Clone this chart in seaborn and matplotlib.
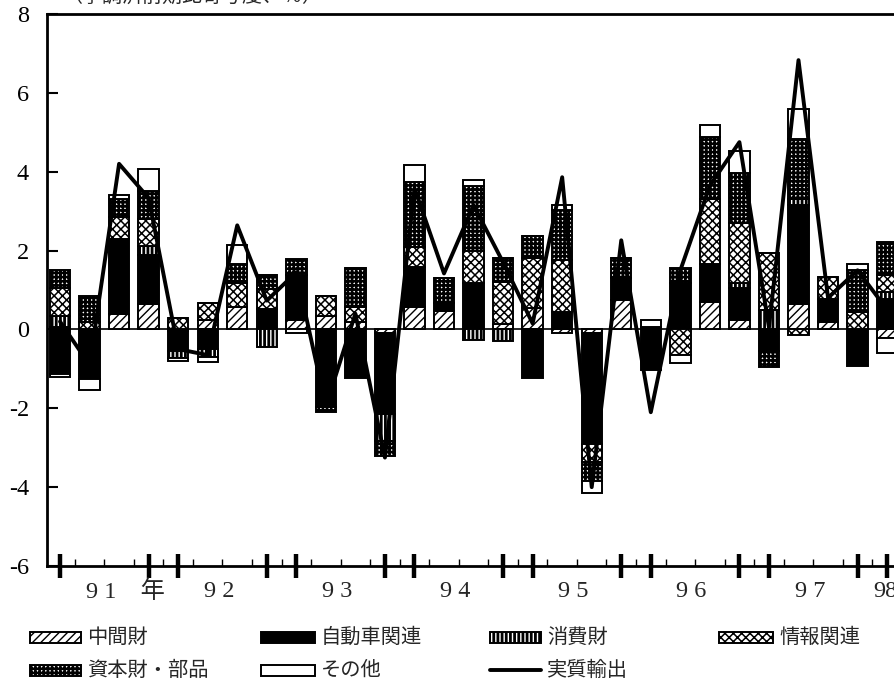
import numpy as np
import matplotlib
matplotlib.use("Agg")
import matplotlib as mpl
import matplotlib.pyplot as plt
from matplotlib.patches import Rectangle
from matplotlib.lines import Line2D
import matplotlib.transforms as mtransforms
import seaborn as sns

# ---- data: quarterly contributions (% q/q), 1991Q1 - 1998Q1 ----
quarters = [f"{y}Q{q}" for y in range(91, 98) for q in range(1, 5)] + ["98Q1"]

intermediate = [0.05, 0.0, 0.4, 0.65, -0.05, 0.25, 0.57, 0.0, 0.23, 0.35,
                0.2, -0.1, 0.57, 0.48, 0.0, 0.15, 0.55, -0.08, -0.1, 0.75,
                0.05, 0.0, 0.7, 0.25, 0.0, 0.65, 0.2, 0.0, -0.23]
autos = [-1.12, -1.25, 1.9, 1.24, -0.5, -0.5, 0.0, 0.53, 1.15, -1.98,
         -1.22, -2.05, 1.02, 0.2, 1.17, 0.0, -1.22, 0.43, -2.8, 0.55,
         -1.04, 1.17, 0.96, 0.79, -0.55, 2.5, 0.56, -0.93, 0.76]
consumer = [0.3, 0.0, 0.0, 0.23, -0.18, -0.2, 0.0, -0.45, 0.0, 0.0,
            0.0, -0.68, 0.0, 0.0, -0.28, -0.3, 0.0, 0.0, 0.0, 0.0,
            0.0, 0.0, 0.0, 0.13, 0.5, 0.17, 0.0, 0.0, 0.2]
info = [0.7, 0.2, 0.55, 0.69, 0.3, 0.41, 0.6, 0.5, 0.0, 0.5,
        0.38, 0.0, 0.5, 0.0, 0.82, 1.05, 1.25, 1.32, -0.45, 0.0,
        0.0, -0.65, 1.65, 1.52, 1.45, -0.15, 0.58, 0.45, 0.43]
capital = [0.46, 0.64, 0.45, 0.7, 0.0, 0.0, 0.5, 0.34, 0.4, -0.12,
           0.97, -0.37, 1.65, 0.63, 1.65, 0.62, 0.56, 1.27, -0.5, 0.5,
           0.0, 0.4, 1.57, 1.27, -0.4, 1.5, 0.0, 1.05, 0.84]
other = [-0.08, -0.28, 0.1, 0.56, -0.06, -0.12, 0.48, 0.0, -0.1, 0.0,
         0.0, 0.0, 0.43, 0.0, 0.16, 0.0, 0.0, 0.13, -0.3, 0.0,
         0.2, -0.2, 0.3, 0.56, 0.0, 0.77, 0.0, 0.17, -0.38]
real_exports = [0.2, -0.9, 4.2, 3.33, -0.5, -0.65, 2.64, 0.73, 1.45, -1.95,
                0.4, -3.25, 3.58, 1.42, 3.15, 1.7, 0.15, 3.86, -4.0, 2.26,
                -2.1, 1.5, 3.65, 4.75, 0.05, 6.83, 0.8, 1.5, 0.5]

series_names = ["中間財", "自動車関連", "消費財", "情報関連", "資本財・部品", "その他"]
line_name = "実質輸出"
year_labels = ["9 1\u3000年", "9 2", "9 3", "9 4", "9 5", "9 6", "9 7", "98"]
y_ticks = [-6, -4, -2, 0, 2, 4, 6, 8]

# ---- styles ----
styles = {
    "中間財": dict(color="white", hatch="////", hlw=1.0),
    "自動車関連": dict(color="black", hatch=None, hlw=1.0),
    "消費財": dict(color="white", hatch="||||", hlw=2.0),
    "情報関連": dict(color="white", hatch="xxxx", hlw=1.1),
    "資本財・部品": dict(color="white", hatch="++++", hlw=1.9),
    "その他": dict(color="white", hatch=None, hlw=1.0),
}

sns.set_style("white")
plt.rcParams["font.family"] = ["Noto Sans CJK JP", "DejaVu Sans"]
NUM_FONT = ["Liberation Serif", "Noto Sans CJK JP"]
NUM_SIZE = 17.5

W, H = 894, 683
PX_PER_Q = 29.54
X_LEFT, X_RIGHT = -0.44, 29.0

fig = plt.figure(figsize=(W / 100, H / 100), dpi=100)
ax = fig.add_axes([47 / W, 117 / H, (X_RIGHT - X_LEFT) * PX_PER_Q / W, 552 / H])

n = len(quarters)
pos = np.arange(n)
values = dict(zip(series_names, [intermediate, autos, consumer, info, capital, other]))

# stacked bars: positive parts build upward, negative parts downward
pos_base = np.zeros(n)
neg_base = np.zeros(n)
for name in series_names:
    v = np.asarray(values[name], dtype=float)
    st = styles[name]
    bottom = np.where(v >= 0, pos_base, neg_base)
    mpl.rcParams["hatch.linewidth"] = st["hlw"]
    sns.barplot(x=pos, y=v, bottom=bottom, native_scale=True, color=st["color"],
                saturation=1, edgecolor="black", linewidth=1.4, hatch=st["hatch"],
                width=0.69, errorbar=None, ax=ax, zorder=2)
    pos_base += np.where(v > 0, v, 0)
    neg_base += np.where(v < 0, v, 0)

ax.axhline(0, color="black", lw=1.2, zorder=1)

sns.lineplot(x=pos, y=real_exports, color="black", linewidth=2.8, ax=ax, zorder=4)

# ---- axes ----
ax.set_xlim(X_LEFT, X_RIGHT)
ax.set_ylim(-6, 8)
ax.set_xlabel("")
ax.set_ylabel("")
for side in ["top", "left", "bottom"]:
    ax.spines[side].set_visible(True)
    ax.spines[side].set_linewidth(2.0)
    ax.spines[side].set_color("black")
ax.spines["right"].set_visible(False)

ax.set_yticks(y_ticks)
ax.set_yticklabels([str(t) for t in y_ticks], fontsize=NUM_SIZE, family=NUM_FONT)
ax.tick_params(axis="y", direction="in", length=8, width=1.5, pad=13,
               left=True, right=False, colors="black")

year_edges = sorted(set([4 * k for k in range(8)] + [4 * k + 3 for k in range(7)]))
ax.set_xticks(year_edges)
ax.set_xticks(np.arange(0.5, n, 1.0), minor=True)
ax.set_xticklabels([])
ax.tick_params(axis="x", which="major", direction="inout", length=17, width=3.2,
               bottom=True, top=False, colors="black")
ax.tick_params(axis="x", which="minor", direction="in", length=5, width=1.0,
               bottom=True, top=False, colors="black")

blend = mtransforms.blended_transform_factory(ax.transData, ax.transAxes)
label_x = [1.5 + 4 * k - 0.63 for k in range(7)] + [27.52]
for lx, lab in zip(label_x, year_labels):
    ax.text(lx, -0.047, lab, transform=blend, ha="left", va="center",
            fontsize=NUM_SIZE, family=NUM_FONT)

# ---- legend (two rows, four fixed columns) ----
def legend_patch(x0, yc, w, h, name):
    st = styles[name]
    mpl.rcParams["hatch.linewidth"] = st["hlw"]
    r = Rectangle((x0 / W, 1 - (yc + h / 2) / H), w / W, h / H,
                  transform=fig.transFigure, facecolor=st["color"],
                  edgecolor="black", linewidth=1.4, hatch=st["hatch"])
    fig.add_artist(r)
    fig.text((x0 + w + 6) / W, 1 - yc / H, name, ha="left", va="center",
             fontsize=14.6)

col_x = [30, 261, 490, 719]
row_y = [637, 670]
legend_patch(col_x[0], row_y[0], 51, 11, "中間財")
legend_patch(col_x[1], row_y[0], 54, 11, "自動車関連")
legend_patch(col_x[2], row_y[0], 51, 11, "消費財")
legend_patch(col_x[3], row_y[0], 54, 11, "情報関連")
legend_patch(col_x[0], row_y[1], 51, 11, "資本財・部品")
legend_patch(col_x[1], row_y[1], 54, 11, "その他")
fig.add_artist(Line2D([col_x[2] / W, (col_x[2] + 51) / W],
                      [1 - row_y[1] / H, 1 - row_y[1] / H],
                      transform=fig.transFigure, color="black", lw=2.8))
fig.text((col_x[2] + 57) / W, 1 - row_y[1] / H, line_name, ha="left",
         va="center", fontsize=14.6)

# unit note above the plot frame
fig.text(62 / W, 1 + 14 / H, "（季調済前期比寄与度、％）", ha="left", va="top",
         fontsize=14.4)

mpl.rcParams["hatch.linewidth"] = 1.0
fig.savefig("out.png", dpi=100)
